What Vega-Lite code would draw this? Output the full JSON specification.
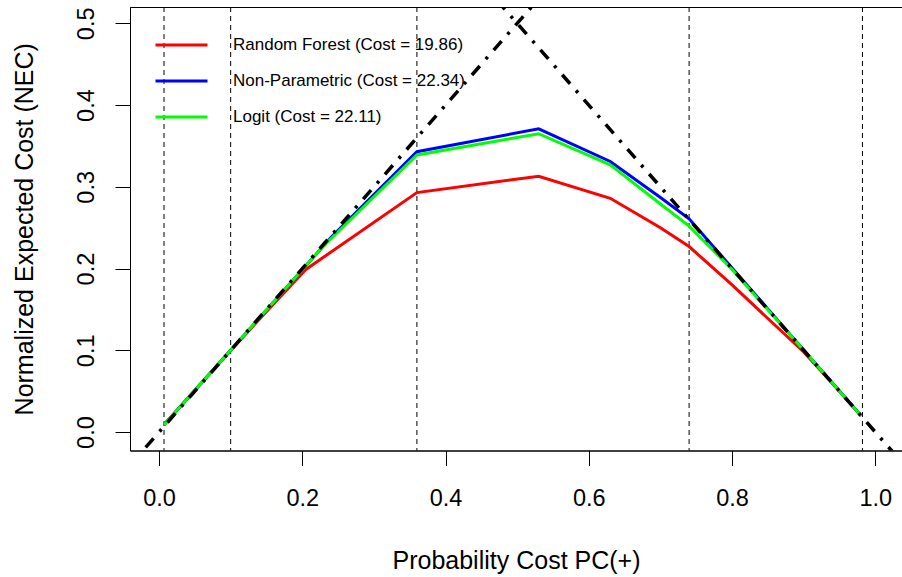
{
  "$schema": "https://vega.github.io/schema/vega-lite/v6.json",
  "width": 774,
  "height": 443.5,
  "autosize": {"type": "none"},
  "padding": {"left": 130, "top": 7, "right": -2, "bottom": 126.5},
  "background": "white",
  "config": {"view": {"stroke": "black", "strokeWidth": 1}, "font": "Liberation Sans"},
  "datasets": {
    "thresholds": [
      {"threshold": 0.007},
      {"threshold": 0.1},
      {"threshold": 0.36},
      {"threshold": 0.74},
      {"threshold": 0.982}
    ],
    "curves": [
      {"model": "Random Forest (Cost = 19.86)", "pc": 0.007, "nec": 0.009},
      {"model": "Random Forest (Cost = 19.86)", "pc": 0.1, "nec": 0.1},
      {"model": "Random Forest (Cost = 19.86)", "pc": 0.155, "nec": 0.152},
      {"model": "Random Forest (Cost = 19.86)", "pc": 0.205, "nec": 0.199},
      {"model": "Random Forest (Cost = 19.86)", "pc": 0.36, "nec": 0.293},
      {"model": "Random Forest (Cost = 19.86)", "pc": 0.53, "nec": 0.313},
      {"model": "Random Forest (Cost = 19.86)", "pc": 0.63, "nec": 0.286},
      {"model": "Random Forest (Cost = 19.86)", "pc": 0.7, "nec": 0.25},
      {"model": "Random Forest (Cost = 19.86)", "pc": 0.74, "nec": 0.227},
      {"model": "Random Forest (Cost = 19.86)", "pc": 0.8, "nec": 0.18},
      {"model": "Random Forest (Cost = 19.86)", "pc": 0.85, "nec": 0.139},
      {"model": "Random Forest (Cost = 19.86)", "pc": 0.9, "nec": 0.098},
      {"model": "Random Forest (Cost = 19.86)", "pc": 0.95, "nec": 0.05},
      {"model": "Random Forest (Cost = 19.86)", "pc": 0.98, "nec": 0.02},
      {"model": "Non-Parametric (Cost = 22.34)", "pc": 0.007, "nec": 0.009},
      {"model": "Non-Parametric (Cost = 22.34)", "pc": 0.1, "nec": 0.1},
      {"model": "Non-Parametric (Cost = 22.34)", "pc": 0.24, "nec": 0.238},
      {"model": "Non-Parametric (Cost = 22.34)", "pc": 0.36, "nec": 0.343},
      {"model": "Non-Parametric (Cost = 22.34)", "pc": 0.53, "nec": 0.371},
      {"model": "Non-Parametric (Cost = 22.34)", "pc": 0.63, "nec": 0.331},
      {"model": "Non-Parametric (Cost = 22.34)", "pc": 0.7, "nec": 0.287},
      {"model": "Non-Parametric (Cost = 22.34)", "pc": 0.74, "nec": 0.261},
      {"model": "Non-Parametric (Cost = 22.34)", "pc": 0.98, "nec": 0.02},
      {"model": "Logit (Cost = 22.11)", "pc": 0.007, "nec": 0.009},
      {"model": "Logit (Cost = 22.11)", "pc": 0.1, "nec": 0.1},
      {"model": "Logit (Cost = 22.11)", "pc": 0.23, "nec": 0.228},
      {"model": "Logit (Cost = 22.11)", "pc": 0.36, "nec": 0.339},
      {"model": "Logit (Cost = 22.11)", "pc": 0.53, "nec": 0.365},
      {"model": "Logit (Cost = 22.11)", "pc": 0.63, "nec": 0.327},
      {"model": "Logit (Cost = 22.11)", "pc": 0.7, "nec": 0.279},
      {"model": "Logit (Cost = 22.11)", "pc": 0.74, "nec": 0.252},
      {"model": "Logit (Cost = 22.11)", "pc": 0.8, "nec": 0.199},
      {"model": "Logit (Cost = 22.11)", "pc": 0.88, "nec": 0.12},
      {"model": "Logit (Cost = 22.11)", "pc": 0.98, "nec": 0.02}
    ],
    "chance": [
      {"line": "positive", "pc": -0.06, "nec": -0.06},
      {"line": "positive", "pc": 0.6, "nec": 0.6},
      {"line": "negative", "pc": 0.4, "nec": 0.6},
      {"line": "negative", "pc": 1.06, "nec": -0.06}
    ]
  },
  "layer": [
    {
      "data": {"name": "thresholds"},
      "mark": {"type": "rule", "strokeDash": [5, 4], "strokeWidth": 1, "color": "black"},
      "encoding": {
        "x": {
          "field": "threshold",
          "type": "quantitative",
          "scale": {"domain": [-0.0405, 1.04], "nice": false, "zero": false},
          "axis": {
            "orient": "bottom",
            "values": [0, 0.2, 0.4, 0.6, 0.8, 1],
            "format": ".1f",
            "grid": false,
            "domain": true,
            "domainColor": "black",
            "domainWidth": 1,
            "ticks": true,
            "tickSize": 15,
            "tickColor": "black",
            "tickWidth": 1,
            "labelFontSize": 23.5,
            "labelFont": "Liberation Sans",
            "labelColor": "black",
            "labelBaseline": "top",
            "labelPadding": 20.5,
            "labelFlush": false,
            "labelOverlap": false,
            "title": "Probability Cost PC(+)",
            "titleFont": "Liberation Sans",
            "titleFontSize": 25,
            "titleFontWeight": "normal",
            "titleColor": "black",
            "titleX": 386,
            "titleY": 117.8,
            "titleAlign": "center",
            "titleBaseline": "alphabetic"
          }
        }
      }
    },
    {
      "data": {"name": "curves"},
      "mark": {"type": "line", "strokeWidth": 3, "clip": true},
      "encoding": {
        "x": {
          "field": "pc",
          "type": "quantitative",
          "scale": {"domain": [-0.0405, 1.04], "nice": false, "zero": false}
        },
        "y": {
          "field": "nec",
          "type": "quantitative",
          "scale": {"domain": [-0.0225, 0.52], "nice": false, "zero": false},
          "axis": {
            "values": [0, 0.1, 0.2, 0.3, 0.4, 0.5],
            "format": ".1f",
            "grid": false,
            "domain": true,
            "domainColor": "black",
            "domainWidth": 1,
            "ticks": true,
            "tickSize": 15,
            "tickColor": "black",
            "tickWidth": 1,
            "labelAngle": 270,
            "labelAlign": "center",
            "labelBaseline": "middle",
            "labelPadding": 29,
            "labelFontSize": 23.5,
            "labelFont": "Liberation Sans",
            "labelColor": "black",
            "labelFlush": false,
            "labelOverlap": false,
            "title": "Normalized Expected Cost (NEC)",
            "titleFont": "Liberation Sans",
            "titleFontSize": 25,
            "titleFontWeight": "normal",
            "titleColor": "black",
            "titleAngle": 270,
            "titleX": -106,
            "titleY": 221.75,
            "titleAlign": "center",
            "titleBaseline": "middle"
          }
        },
        "color": {
          "field": "model",
          "type": "nominal",
          "sort": ["Random Forest (Cost = 19.86)", "Non-Parametric (Cost = 22.34)", "Logit (Cost = 22.11)"],
          "scale": {
            "domain": ["Random Forest (Cost = 19.86)", "Non-Parametric (Cost = 22.34)", "Logit (Cost = 22.11)"],
            "range": ["#FF0000", "#0000FF", "#00FF00"]
          },
          "legend": {
            "orient": "none",
            "legendX": 24,
            "legendY": 10.5,
            "title": null,
            "symbolType": "stroke",
            "symbolSize": 2704,
            "symbolStrokeWidth": 3,
            "labelFontSize": 17,
            "labelFont": "Liberation Sans",
            "labelColor": "black",
            "labelLimit": 500,
            "labelOffset": 24,
            "rowPadding": 0,
            "padding": 0
          }
        }
      }
    },
    {
      "data": {"name": "chance"},
      "mark": {"type": "line", "color": "black", "strokeWidth": 3.5, "strokeDash": [3, 9, 12, 9], "clip": true},
      "encoding": {
        "x": {
          "field": "pc",
          "type": "quantitative",
          "scale": {"domain": [-0.0405, 1.04], "nice": false, "zero": false}
        },
        "y": {
          "field": "nec",
          "type": "quantitative",
          "scale": {"domain": [-0.0225, 0.52], "nice": false, "zero": false}
        },
        "detail": {"field": "line", "type": "nominal"}
      }
    }
  ]
}
